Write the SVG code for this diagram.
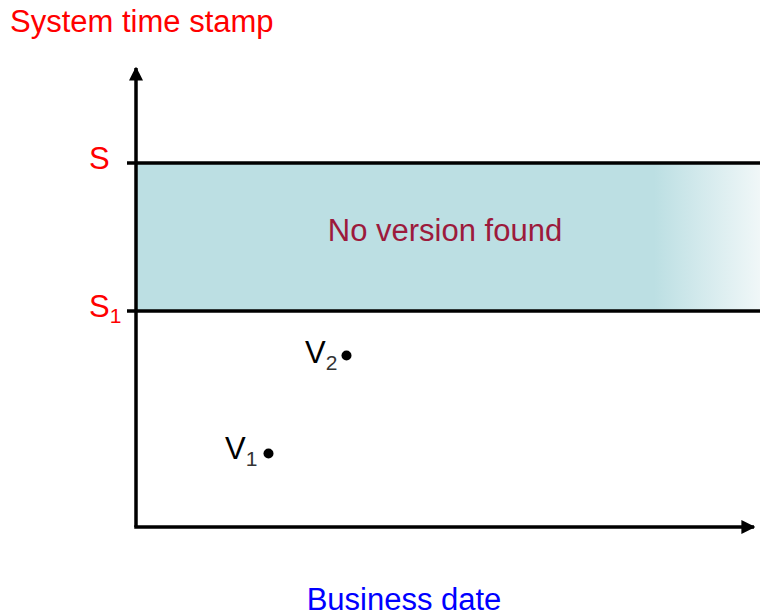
<svg xmlns="http://www.w3.org/2000/svg" width="760" height="616" viewBox="0 0 760 616">
<style>
text{font-family:"Liberation Sans",Arial,sans-serif;font-size:31px}
.red{fill:#FF0000}
.ax{stroke:#000;stroke-width:3.5;fill:none}
.lbl{fill:#000}
.sub{font-size:21px}
</style>
<defs>
<linearGradient id="fade" x1="137" y1="0" x2="760" y2="0" gradientUnits="userSpaceOnUse">
<stop offset="0" stop-color="#BCDFE3"/>
<stop offset="0.83" stop-color="#BCDFE3"/>
<stop offset="1" stop-color="#F0F7F8"/>
</linearGradient>
<marker id="arr" viewBox="0 0 10 10" refX="9" refY="5" markerWidth="4" markerHeight="4" markerUnits="strokeWidth" orient="auto">
<path d="M0,0 L10,5 L0,10 Z" fill="#000"/>
</marker>
</defs>
<rect width="760" height="616" fill="#fff"/>
<g id="band">
<rect x="137" y="163" width="623" height="148" fill="url(#fade)"/>
<text x="445" y="241" text-anchor="middle" fill="#9C1A3C">No version found</text>
</g>
<g id="connectors">
<line class="ax" x1="127" y1="163" x2="760" y2="163"/>
<line class="ax" x1="127" y1="311" x2="760" y2="311"/>
<path class="ax" d="M136,527 L136,68" marker-end="url(#arr)"/>
<path class="ax" d="M134.25,527 L754,527" marker-end="url(#arr)"/>
</g>
<g id="yaxis-label"><text class="red" x="10" y="32">System time stamp</text></g>
<g id="xaxis-label"><text x="404" y="610" text-anchor="middle" fill="#0000FF">Business date</text></g>
<g id="S"><text class="red" x="89" y="169">S</text></g>
<g id="S1"><text class="red" x="89" y="317">S<tspan class="sub" dy="6">1</tspan></text></g>
<g id="V2">
<text class="lbl" x="305" y="363">V<tspan class="sub" dy="7" fill="#333">2</tspan></text>
<circle cx="346.5" cy="355.5" r="5" fill="#000"/>
</g>
<g id="V1">
<text class="lbl" x="225" y="459">V<tspan class="sub" dy="7" fill="#333">1</tspan></text>
<circle cx="268.5" cy="453.5" r="5" fill="#000"/>
</g>
</svg>
